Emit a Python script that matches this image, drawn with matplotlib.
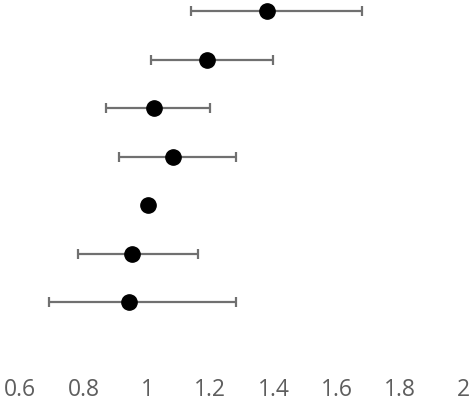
import matplotlib
matplotlib.use("Agg")
import matplotlib.pyplot as plt

# Data (top to bottom)
rows = [0, 1, 2, 3, 4, 5, 6]
estimates = [1.379, 1.19, 1.021, 1.082, 1.003, 0.953, 0.943]
lower = [1.139, 1.012, 0.871, 0.912, 1.003, 0.782, 0.692]
upper = [1.678, 1.398, 1.199, 1.281, 1.003, 1.161, 1.281]
xticks = [0.6, 0.8, 1.0, 1.2, 1.4, 1.6, 1.8, 2.0]
xticklabels = ["0.6", "0.8", "1", "1.2", "1.4", "1.6", "1.8", "2"]

fig = plt.figure(figsize=(4.72, 4.06), dpi=100)
ax = fig.add_axes([0, 1 - 375 / 406, 1, 375 / 406])

for y, e, lo, hi in zip(rows, estimates, lower, upper):
    if hi - lo > 1e-6:
        ax.errorbar([e], [y], xerr=[[e - lo], [hi - e]], fmt="none",
                    ecolor="#707070", elinewidth=1.6, capsize=3.8, capthick=1.6, zorder=2)
    ax.plot([e], [y], "o", color="black", markersize=11, zorder=3)

ax.set_xlim(1 - 147 / 316.6, 1 + 325 / 316.6)
ax.set_ylim(7.48, -0.247)
ax.set_xticks(xticks)
ax.set_xticklabels(xticklabels, fontsize=16.5, color="#5e5e5e", family="Open Sans")
ax.tick_params(axis="x", length=0, pad=2.5)
ax.set_yticks([])
for s in ax.spines.values():
    s.set_visible(False)

fig.savefig("out.png", dpi=100)
